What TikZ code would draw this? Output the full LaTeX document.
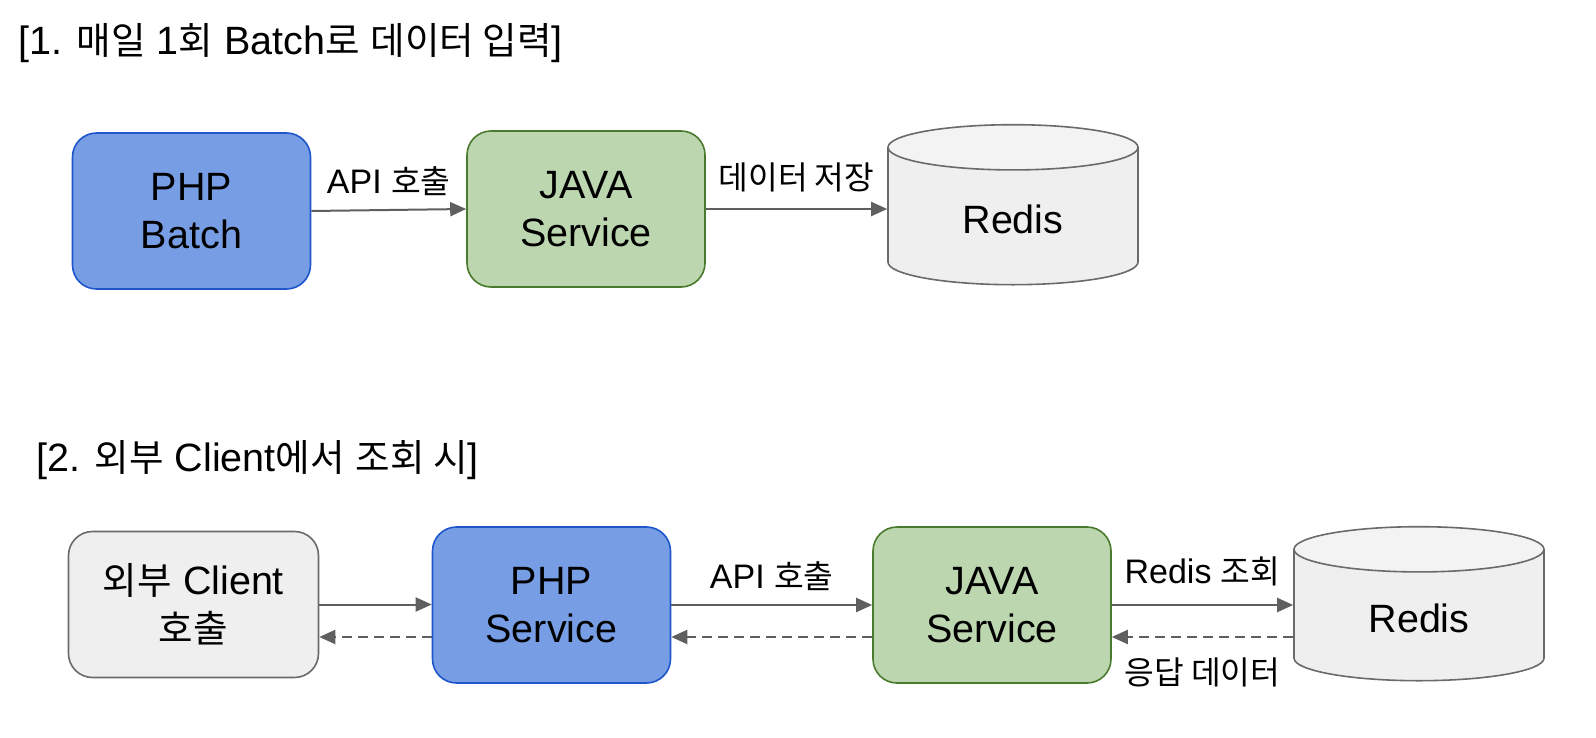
\documentclass[tikz,border=0pt]{standalone}
\usepackage{fontspec}
\setmainfont{Liberation Sans}
\newfontfamily\ko{Noto Sans CJK KR}[Scale=0.95]
\usetikzlibrary{arrows.meta,shapes.geometric}
\definecolor{phpfill}{HTML}{779EE5}
\definecolor{phpline}{HTML}{1F56CC}
\definecolor{javafill}{HTML}{BCD7B0}
\definecolor{javaline}{HTML}{4A7A2E}
\definecolor{greyfill}{HTML}{EFEFEF}
\definecolor{greyline}{HTML}{6A6A6A}
\definecolor{dbend}{HTML}{F3F3F3}
\definecolor{arrowcol}{HTML}{5F5F5F}
\begin{document}
\begin{tikzpicture}[x=1pt, y=-1pt, >={Triangle[length=16pt, width=14pt]},
  box/.style={draw, line width=1.6pt, rounded corners=24pt, minimum width=238pt, minimum height=156pt, align=center, font=\fontsize{39.5}{48}\selectfont},
  php/.style={box, fill=phpfill, draw=phpline},
  java/.style={box, fill=javafill, draw=javaline},
  client/.style={box, fill=greyfill, draw=greyline},
  db/.style={cylinder, shape border rotate=90, aspect=0.42, draw=greyline, line width=1.6pt, cylinder uses custom fill, cylinder body fill=greyfill, cylinder end fill=dbend, minimum width=250pt, minimum height=160pt, font=\fontsize{39.5}{48}\selectfont},
  link/.style={->, draw=arrowcol, line width=2pt},
  back/.style={link, dash pattern=on 10pt off 6pt},
  lbl/.style={font=\fontsize{34}{40}\selectfont, inner sep=2pt},
  title/.style={anchor=west, font=\fontsize{39.5}{48}\selectfont, inner sep=0pt}]
\useasboundingbox (0,0) rectangle (1596,738);

\node[title] (t1) at (18,43) {[1. {\ko 매일} 1{\ko 회} Batch{\ko 로} {\ko 데이터 입력}]};
\node[php] (batch) at (191.5,211) {PHP\\Batch};
\node[java] (javaA) at (586,209) {JAVA\\Service};
\node[db] (redisA) at (1013,219) {Redis};
\draw[link] (batch.east) -- (javaA.west) node[lbl, midway, above=11pt] (callA) {API {\ko 호출}};
\draw[link] (javaA.east) -- (javaA.east -| redisA.west) node[lbl, midway, above=14pt] (save) {\ko 데이터 저장};

\node[title] (t2) at (36,460) {[2. {\ko 외부} Client{\ko 에서} {\ko 조회 시}]};
\node[client, minimum width=250pt, minimum height=146pt] (client) at (193.5,604.5) {{\ko 외부} Client\\{\ko 호출}};
\node[php] (phpB) at (551.5,605) {PHP\\Service};
\node[java] (javaB) at (992,605) {JAVA\\Service};
\node[db, minimum height=154pt] (redisB) at (1419,618) {Redis};
\draw[link] (client.east) -- (client.east -| phpB.west);
\draw[back] ([yshift=-32pt]phpB.west) -- ([yshift=-32pt]phpB.west -| client.east);
\draw[link] (phpB.east) -- (javaB.west) node[lbl, midway, above=11pt] (callB) {API {\ko 호출}};
\draw[back] ([yshift=-32pt]javaB.west) -- ([yshift=-32pt]phpB.east);
\draw[link] (javaB.east) -- (javaB.east -| redisB.west) node[lbl, midway, above=16pt] (query) {Redis {\ko 조회}};
\draw[back] ([yshift=-32pt]javaB.east -| redisB.west) -- ([yshift=-32pt]javaB.east) node[lbl, midway, below=18pt] (reply) {\ko 응답 데이터};
\end{tikzpicture}
\end{document}
